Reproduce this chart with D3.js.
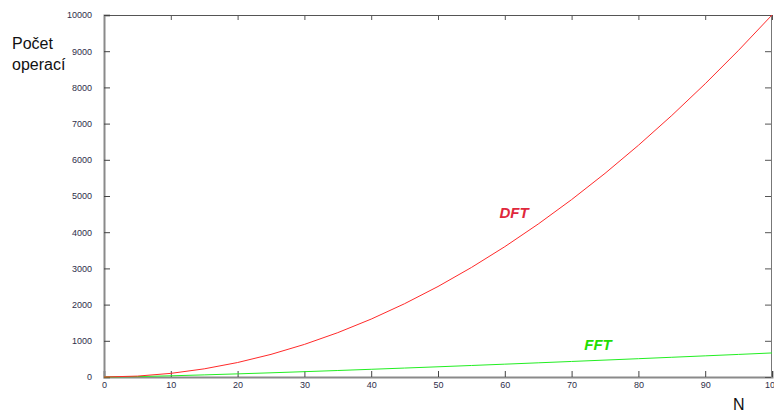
<!DOCTYPE html>
<html>
<head>
<meta charset="utf-8">
<script src="https://cdn.jsdelivr.net/npm/d3@7"></script>
<style>
  html, body { margin: 0; padding: 0; background: #fff; }
  svg { display: block; }
</style>
</head>
<body>
<svg id="chart" width="774" height="414"></svg>
<script>
// Number of samples N
const sizes = [0, 5, 10, 15, 20, 25, 30, 35, 40, 45, 50, 55, 60, 65, 70, 75, 80, 85, 90, 95, 100];
// Operation counts for the direct DFT
const dftOps = [0, 25, 100, 225, 400, 625, 900, 1225, 1600, 2025, 2500, 3025, 3600, 4225, 4900, 5625, 6400, 7225, 8100, 9025, 10000];
// Operation counts for the FFT
const fftOps = [0, 11.6, 33.2, 58.6, 86.4, 116.1, 147.2, 179.5, 212.9, 247.1, 282.2, 318.0, 354.4, 391.5, 429.1, 467.1, 505.8, 544.8, 584.2, 624.1, 664.4];
// Axis ticks
const xTicks = [0, 10, 20, 30, 40, 50, 60, 70, 80, 90, 100];
const yTicks = [0, 1000, 2000, 3000, 4000, 5000, 6000, 7000, 8000, 9000, 10000];

const svg = d3.select("#chart");
const plotLeft = 104, plotRight = 772, plotTop = 15, plotBottom = 377;

const x = d3.scaleLinear().domain([0, 100]).range([plotLeft, plotRight]);
const y = d3.scaleLinear().domain([0, 10000]).range([plotBottom, plotTop]);

const tickFont = "Liberation Sans, Arial, sans-serif";
const tickColor = "#2e2e4a";

// Frame: top and right edges darker, left and bottom edges grey
svg.append("line").attr("x1", plotLeft).attr("x2", plotRight).attr("y1", plotTop + 0.5).attr("y2", plotTop + 0.5)
  .attr("stroke", "#555").attr("stroke-width", 1);
svg.append("line").attr("x1", plotRight - 0.5).attr("x2", plotRight - 0.5).attr("y1", plotTop).attr("y2", plotBottom)
  .attr("stroke", "#777").attr("stroke-width", 1);

// Bottom axis (ticks point into the plot)
const xAxis = d3.axisBottom(x).tickValues(xTicks).tickSize(-6).tickPadding(10).tickFormat(d3.format("d"));
const gx = svg.append("g").attr("transform", `translate(0,${plotBottom})`).call(xAxis);
gx.select(".domain").attr("stroke", "#8a8a8a").attr("stroke-width", 2);
gx.selectAll(".tick line").attr("stroke", "#444");
gx.selectAll(".tick text").attr("font-family", tickFont).attr("font-size", 9).attr("fill", tickColor).attr("dy", "0.1em");

// Top mirrored ticks
const xTop = d3.axisTop(x).tickValues(xTicks).tickSize(-5).tickFormat("");
const gxt = svg.append("g").attr("transform", `translate(0,${plotTop})`).call(xTop);
gxt.select(".domain").remove();
gxt.selectAll(".tick line").attr("stroke", "#555");

// Left axis
const yAxis = d3.axisLeft(y).tickValues(yTicks).tickSize(-6).tickPadding(12).tickFormat(d3.format("d"));
const gy = svg.append("g").attr("transform", `translate(${plotLeft},0)`).call(yAxis);
gy.select(".domain").attr("stroke", "#8a8a8a").attr("stroke-width", 2);
gy.selectAll(".tick line").attr("stroke", "#444");
gy.selectAll(".tick text").attr("font-family", tickFont).attr("font-size", 9).attr("fill", tickColor);

// Right mirrored ticks
const yRight = d3.axisRight(y).tickValues(yTicks).tickSize(-6).tickFormat("");
const gyr = svg.append("g").attr("transform", `translate(${plotRight - 1},0)`).call(yRight);
gyr.select(".domain").remove();
gyr.selectAll(".tick line").attr("stroke", "#555");

// Curves
const line = d3.line().x((d, i) => x(sizes[i])).y(d => y(d));
svg.append("path").datum(fftOps).attr("d", line)
  .attr("fill", "none").attr("stroke", "#22ee22").attr("stroke-width", 1);
svg.append("path").datum(dftOps).attr("d", line)
  .attr("fill", "none").attr("stroke", "#ff2a2a").attr("stroke-width", 1);

// Curve labels
svg.append("text").attr("x", 514).attr("y", 218).attr("text-anchor", "middle")
  .attr("font-family", "Liberation Sans, Arial, sans-serif").attr("font-size", 15)
  .attr("font-weight", "bold").attr("font-style", "italic").attr("fill", "#e0283c").text("DFT");
svg.append("text").attr("x", 598).attr("y", 350).attr("text-anchor", "middle")
  .attr("font-family", "Liberation Sans, Arial, sans-serif").attr("font-size", 15)
  .attr("font-weight", "bold").attr("font-style", "italic").attr("fill", "#22dd00").text("FFT");

// Axis titles
const titleFont = "Liberation Sans, Arial, sans-serif";
svg.append("text").attr("x", 12).attr("y", 49).attr("font-family", titleFont).attr("font-size", 16)
  .attr("fill", "#111").text("Počet");
svg.append("text").attr("x", 12).attr("y", 70).attr("font-family", titleFont).attr("font-size", 16)
  .attr("fill", "#111").text("operací");
svg.append("text").attr("x", 733).attr("y", 410).attr("font-family", titleFont).attr("font-size", 16)
  .attr("fill", "#111").text("N");
</script>
</body>
</html>
